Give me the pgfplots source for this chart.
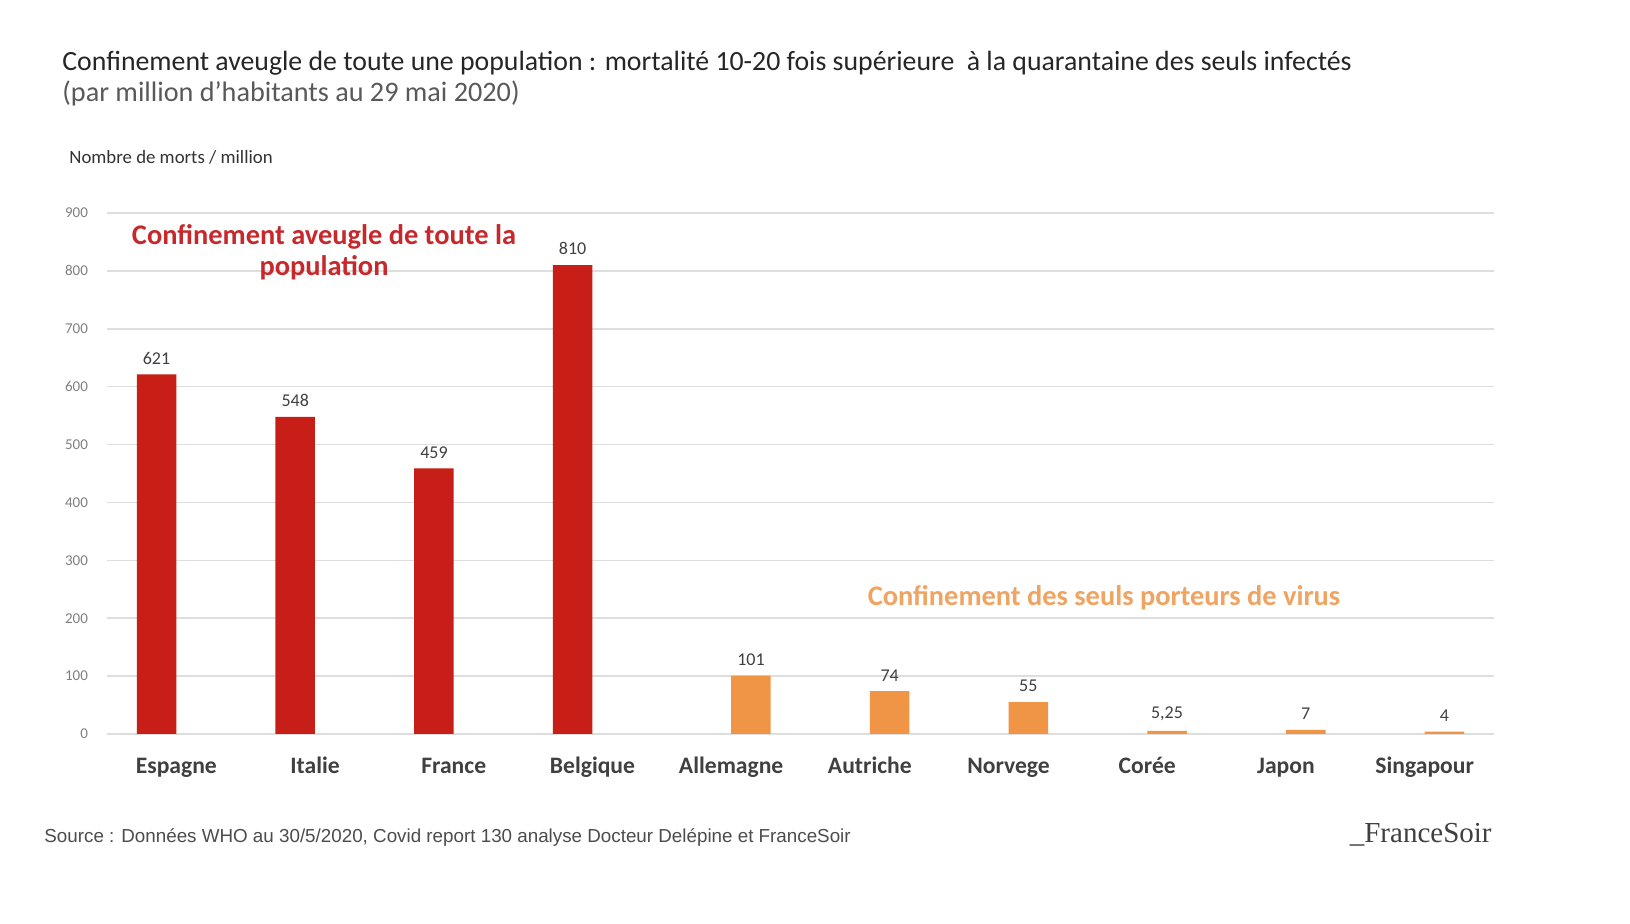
\documentclass[border=0pt]{standalone}
\usepackage{pgfplots}
\pgfplotsset{compat=1.18}
\usepackage{pgfplotstable}
\usepackage{fontspec}
\setmainfont{Carlito}
\newfontfamily\arialfont{Liberation Sans}
\newfontfamily\logofont{Liberation Serif}

\definecolor{barred}{RGB}{200,30,24}
\definecolor{barorange}{RGB}{240,148,70}
\definecolor{notered}{RGB}{198,40,44}
\definecolor{noteorange}{RGB}{240,164,98}
\definecolor{gridgray}{RGB}{222,222,222}
\definecolor{tickgray}{RGB}{128,128,128}
\definecolor{textdark}{RGB}{64,64,64}

% Deaths per million inhabitants (29 May 2020)
\pgfplotstableread{
x  y     lbl
0  621   621
1  548   548
2  459   459
3  810   810
}\fullconf
\pgfplotstableread{
x  y     lbl
4  101   101
5  74    74
6  55    55
7  5.25  {5,25}
8  7     7
9  4     4
}\targetconf

\begin{document}
\begin{tikzpicture}
\path[use as bounding box, fill=white] (0,0) rectangle (815pt,462pt);

% Titles
\node[anchor=base west, inner sep=0pt, text=black!85] at (31pt,426.5pt)
  {\fontsize{13.9pt}{16pt}\selectfont Confinement aveugle de toute une population : mortalité 10-20 fois supérieure \ à la quarantaine des seuls infectés};
\node[anchor=base west, inner sep=0pt, text=black!65] at (31pt,411pt)
  {\fontsize{14.1pt}{16pt}\selectfont (par million d’habitants au 29 mai 2020)};
\node[anchor=base west, inner sep=0pt, text=black!80] at (34.5pt,380pt)
  {\fontsize{9.4pt}{11pt}\selectfont Nombre de morts / million};

\begin{axis}[
  at={(53.5pt,95pt)}, anchor=south west,
  scale only axis, width=693.5pt, height=260.5pt,
  xmin=-0.5, xmax=9.5, ymin=0, ymax=900,
  axis line style={draw=none},
  ytick={0,100,...,900},
  ymajorgrids, grid style={gridgray, line width=0.8pt},
  major tick length=0pt,
  xtick={0,...,9},
  xticklabels={Espagne,Italie,France,Belgique,Allemagne,Autriche,Norvege,Corée,Japon,Singapour},
  xticklabel style={font=\fontsize{11.8pt}{13pt}\selectfont\bfseries, text=textdark, anchor=base, yshift=-20pt},
  yticklabel style={font=\fontsize{7.5pt}{9pt}\selectfont, text=tickgray, anchor=east, xshift=-6pt},
  /pgf/number format/assume math mode=true,
  ybar, bar width=19.75pt,
  nodes near coords,
  point meta=explicit symbolic,
  every node near coord/.append style={font=\fontsize{9pt}{11pt}\selectfont, text=textdark, anchor=south, yshift=1.5pt},
  clip=false,
]
\addplot[fill=barred, draw=none, bar shift=-9.9pt] table[x=x, y=y, meta=lbl] {\fullconf};
\addplot[fill=barorange, draw=none, bar shift=9.9pt] table[x=x, y=y, meta=lbl] {\targetconf};
\end{axis}

% Group annotations
\node[align=center, text=notered, inner sep=0pt, font=\fontsize{14.2pt}{15.5pt}\selectfont\bfseries] at (162pt,336pt)
  {Confinement aveugle de toute la\\ population};
\node[text=noteorange, inner sep=0pt, font=\fontsize{14.2pt}{16pt}\selectfont\bfseries] at (552pt,163pt)
  {Confinement des seuls porteurs de virus};

% Footer
\node[anchor=west, inner sep=0pt, text=black!70] at (22pt,43pt)
  {\arialfont\fontsize{9.4pt}{11pt}\selectfont Source : Données WHO au 30/5/2020, Covid report 130 analyse Docteur Delépine et FranceSoir};
\node[anchor=east, inner sep=0pt, text=black!75] at (746pt,44.5pt)
  {\logofont\fontsize{14.5pt}{16pt}\selectfont\_FranceSoir};
\end{tikzpicture}
\end{document}
